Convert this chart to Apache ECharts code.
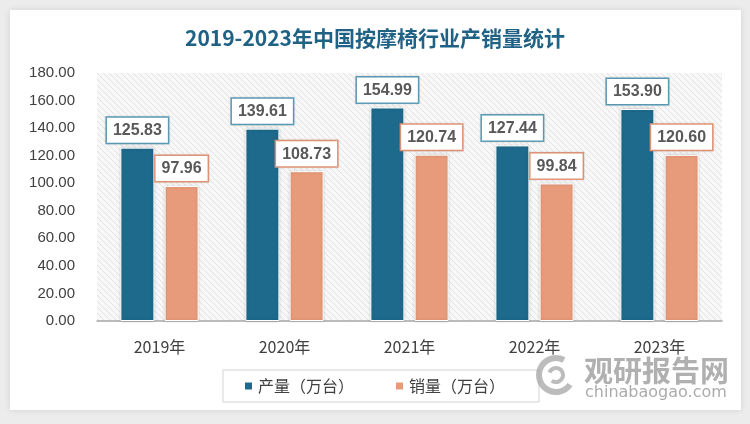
<!DOCTYPE html>
<html><head><meta charset="utf-8">
<script src="https://cdn.jsdelivr.net/npm/echarts@6/dist/echarts.min.js"></script>
<style>html,body{margin:0;padding:0;background:#ececec;}#c{width:750px;height:424px;}</style>
</head><body><div id="c"></div>
<script>
var categories = ['2019年','2020年','2021年','2022年','2023年'];
var production = [125.83, 139.61, 154.99, 127.44, 153.90];
var sales = [97.96, 108.73, 120.74, 99.84, 120.60];
var seriesNames = ['产量（万台）','销量（万台）'];
var titleText = '2019-2023年中国按摩椅行业产销量统计';

var pc = document.createElement('canvas');
pc.width = 6; pc.height = 6;
var g = pc.getContext('2d');
g.fillStyle = '#f8f8f8'; g.fillRect(0,0,6,6);
g.strokeStyle = '#e2e2e2'; g.lineWidth = 1;
g.beginPath();
g.moveTo(-1,-1); g.lineTo(7,7);
g.moveTo(-4,2); g.lineTo(4,10);
g.moveTo(2,-4); g.lineTo(10,4);
g.stroke();

var chart = echarts.init(document.getElementById('c'));
function lbl(border){
  return {show:true, position:'top', distance:5, color:'#595959', fontSize:16, fontWeight:'bold',
    fontFamily:'Liberation Sans, Arial, sans-serif',
    backgroundColor:'#fff', borderColor:border, borderWidth:1.5, padding:[5,6,4,6],
    shadowBlur:2, shadowColor:'rgba(0,0,0,0.15)',
    formatter:function(p){return p.value.toFixed(2);}};
}
chart.setOption({
  backgroundColor:'#ececec',
  animation:false,
  graphic:[
    {type:'rect', shape:{x:10,y:10,width:731,height:400}, style:{fill:'#fff', shadowBlur:6, shadowColor:'rgba(0,0,0,0.12)'}, z:-10},
    {type:'text', left:584, top:356, z:100, style:{text:'观研报告网', font:'bold 29px "Noto Sans CJK SC", sans-serif', fill:'rgba(150,150,150,0.75)'}},
    {type:'text', left:585, top:385, z:100, style:{text:'chinabaogao.com', font:'16px "DejaVu Sans", sans-serif', fill:'rgba(150,150,150,0.8)'}},
    {type:'arc', shape:{cx:556, cy:375, r:17, startAngle:0.6, endAngle:5.2}, z:100, style:{stroke:'rgba(160,160,160,0.7)', lineWidth:6, fill:null}},
    {type:'arc', shape:{cx:556, cy:375, r:7, startAngle:3.5, endAngle:8.5}, z:100, style:{stroke:'rgba(160,160,160,0.7)', lineWidth:4, fill:null}}
  ],
  title:{text:titleText, left:'center', top:23,
    textStyle:{color:'#1f6286', fontSize:21, fontWeight:'bold', fontFamily:'"Noto Sans CJK SC", sans-serif'}},
  legend:{data:seriesNames, left:223, top:370, icon:'rect', itemWidth:9, itemHeight:9, itemGap:40,
    borderColor:'#d3d3d3', borderWidth:1, padding:[8,34,8,20],
    textStyle:{color:'#404040', fontSize:16, fontFamily:'"Noto Sans CJK SC", sans-serif'}},
  grid:{left:97, right:28, top:73, bottom:103, show:true, borderWidth:0,
    backgroundColor:{image:pc, repeat:'repeat'}},
  xAxis:{type:'category', data:categories,
    axisLine:{lineStyle:{color:'#a6a6a6', width:1.5}}, axisTick:{show:false},
    axisLabel:{color:'#404040', fontSize:16, margin:18, fontFamily:'"Noto Sans CJK SC", sans-serif'}},
  yAxis:{type:'value', min:0, max:180, interval:20,
    axisLine:{show:false}, axisTick:{show:false}, splitLine:{show:false},
    axisLabel:{color:'#404040', fontSize:15, margin:22, fontFamily:'Liberation Sans, Arial, sans-serif',
      formatter:function(v){return v.toFixed(2);}}},
  series:[
    {name:seriesNames[0], type:'bar', data:production, barWidth:34, barGap:'30%',
      itemStyle:{color:'#1d6a8c', borderColor:'#fff', borderWidth:1, shadowBlur:3, shadowColor:'rgba(0,0,0,0.2)'},
      label:lbl('#5f9fbc')},
    {name:seriesNames[1], type:'bar', data:sales, barWidth:34,
      itemStyle:{color:'#e89b7a', borderColor:'#fff', borderWidth:1, shadowBlur:3, shadowColor:'rgba(0,0,0,0.2)'},
      label:lbl('#e8997a')}
  ]
});
</script></body></html>
